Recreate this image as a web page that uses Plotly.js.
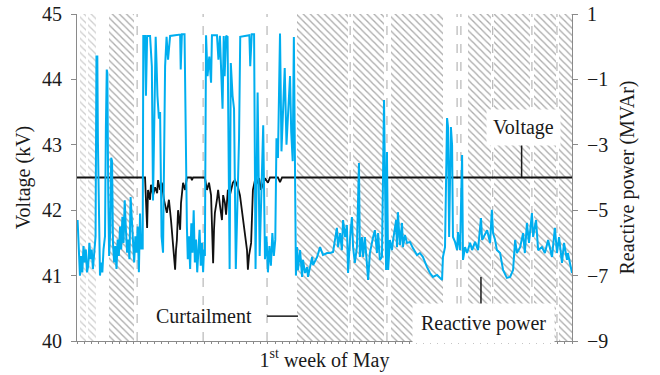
<!DOCTYPE html>
<html>
<head>
<meta charset="utf-8">
<script src="https://cdn.plot.ly/plotly-3.0.1.min.js"></script>
<style>
  html, body { margin: 0; padding: 0; background: #ffffff; }
  #chart { width: 660px; height: 375px; }
</style>
</head>
<body>
<div id="chart"></div>
<script>
// ---------- data (hours of the first week of May) ----------
const blueHours = [
  0.2,0.6,1.0,1.4,1.8,2.2,2.6,3.0,3.4,3.8,4.2,4.6,5.0,5.4,5.8,6.3,6.6,6.9,7.1,7.3,7.5,7.8,8.2,8.6,9.0,9.5,9.8,10.1,10.3,10.6,10.9,11.3,11.6,11.9,12.2,12.6,13.0,13.4,13.8,14.2,14.6,15.0,15.4,15.8,16.2,16.6,17.0,17.4,17.8,18.2,18.6,19.0,19.4,19.8,20.2,20.6,21.0,21.4,21.8,22.2,
  22.3,22.5,23.1,23.4,23.8,24.8,25.1,25.4,25.8,26.7,27.0,27.3,27.8,28.2,28.7,29.2,29.9,30.4,30.9,31.6,33.3,35.0,35.2,35.6,36.5,36.9,37.3,
  37.6,38.0,38.4,38.8,39.2,39.6,40.0,40.4,40.8,41.2,41.6,42.0,42.4,42.8,43.1,
  43.4,43.8,44.3,44.9,45.5,45.8,47.5,48.0,48.5,49.4,49.8,50.1,50.6,51.1,51.8,52.2,52.8,53.3,53.9,55.0,55.4,58.5,58.8,59.3,60.1,60.6,61.3,62.0,63.2,63.8,64.3,
  64.8,65.3,65.8,66.3,66.8,67.3,67.7,68.2,68.9,69.4,70.5,71.1,72.3,72.7,73.2,73.6,74.0,74.3,
  74.7,75.0,75.7,76.4,76.7,77.4,78.1,78.4,79.8,80.1,81.5,82.5,83.5,84.9,85.9,86.9,88.2,88.6,89.3,89.9,90.3,91.0,91.6,92.0,92.7,93.3,93.7,94.3,95.0,95.7,96.0,96.7,97.1,97.7,98.8,99.4,100.5,101.1,101.8,102.2,102.8,103.5,104.2,104.9,105.2,105.6,106.2,106.9,107.2,108.3,108.6,108.9,109.6,110.3,110.6,111.3,112.0,113.0,114.0,115.4,116.4,117.4,118.8,119.8,120.8,122.2,123.2,123.9,124.2,124.9,125.6,125.9,126.3,126.9,127.3,127.6,128.3,129.0,129.3,130.0,130.7,131.0,131.7,132.4,133.4,134.1,135.1,136.1,137.1,137.5,139.2,140.2,140.8,141.2,141.9,142.5,143.6,144.6,145.9,147.0,148.0,148.7,149.3,150.4,151.4,152.0,152.7,153.4,154.4,154.8,155.8,156.5,157.8,158.8,159.9,161.2,162.2,162.9,163.6,164.6,165.3,166.3,166.6,168.0
];
const reactiveMVAr = [
  -5.3,-6.0,-7.0,-6.4,-6.9,-6.1,-6.6,-6.2,-6.9,-6.7,-6.0,-6.5,-6.2,-6.8,-6.3,-5.8,-0.3,-0.3,-2.9,-4.0,-6.4,-7.0,-6.6,-6.9,-6.2,-5.8,-2.5,-0.7,-0.8,-4.5,-6.4,-5.6,-3.4,-3.5,-6.0,-6.6,-6.1,-6.8,-5.9,-6.4,-5.5,-6.2,-5.2,-6.0,-4.7,-5.6,-6.3,-5.9,-6.5,-4.6,-5.3,-6.1,-6.6,-5.8,-6.3,-5.5,-6.9,-5.1,-6.2,-5.9,
  -6.2,0.33,0.33,-1.5,0.33,0.33,0.0,-0.6,-4.7,0.3,-0.5,-1.5,-2.2,-2.0,-5.8,-6.3,-0.6,0.3,-0.4,0.33,0.35,0.37,-0.7,0.38,0.38,-3.0,-5.5,
  -6.5,-5.8,-6.8,-5.4,-6.3,-5.0,-6.6,-5.9,-6.9,-6.1,-5.6,-6.7,-6.0,-6.9,-6.2,
  -6.4,0.35,-0.9,-0.3,-1.1,0.35,0.35,-0.4,0.33,-1.9,0.33,-0.9,0.33,0.3,-6.8,-0.5,-1.5,-1.9,-6.8,-2.8,0.3,0.35,-0.6,0.38,0.38,-6.8,-1.4,-6.4,-2.4,-6.5,-5.8,
  -6.9,-6.1,-6.7,-5.7,-6.4,-5.9,-2.8,-3.4,0.4,-3.2,-0.65,-3.0,-0.9,-2.6,-3.5,0.3,-5.8,-7.0,
  -6.13,-6.83,-6.22,-7.04,-6.52,-6.92,-6.74,-7.04,-6.43,-6.68,-6.43,-6.13,-6.37,-6.31,-6.31,-6.28,-5.54,-6.13,-5.70,-6.22,-5.30,-5.82,-5.45,-6.92,-5.82,-5.21,-6.13,-6.61,-6.13,-3.56,-6.43,-5.82,-6.43,-5.82,-7.13,-6.31,-5.82,-5.61,-6.31,-5.70,-6.52,-6.43,-1.63,-6.83,-3.22,-6.83,-5.91,-6.22,-5.97,-5.30,-6.13,-5.06,-6.06,-5.39,-6.13,-5.76,-6.00,-5.97,-6.16,-6.37,-6.31,-6.43,-6.74,-6.92,-7.04,-6.98,-7.07,-7.13,-6.43,-6.13,-2.18,-2.43,-5.82,-2.46,-3.01,-5.82,-5.97,-6.22,-5.67,-6.22,-3.31,-6.52,-6.13,-6.31,-6.00,-6.22,-5.97,-6.22,-5.24,-5.91,-5.61,-6.00,-4.99,-5.70,-5.91,-6.22,-6.31,-6.83,-7.07,-7.04,-6.83,-5.91,-6.31,-6.13,-5.70,-6.31,-5.39,-6.00,-5.09,-5.82,-5.30,-6.22,-6.13,-6.31,-5.91,-6.43,-5.54,-6.31,-5.82,-6.61,-6.00,-6.52,-6.31,-6.92
];

const voltageHours = [
  0,23.1,23.4,23.8,24.1,24.8,25.1,25.8,26.5,27.2,27.5,28.2,28.8,29.5,30.5,31.2,31.9,32.6,33.3,33.6,33.9,34.3,35.0,35.3,36.0,36.7,37.3,38.7,39.0,39.4,
  43.4,44.1,44.8,45.5,45.8,46.2,46.5,46.8,47.5,47.9,48.5,49.2,49.6,50.2,50.6,51.2,51.9,52.9,53.6,54.6,55.3,56.0,56.7,57.0,57.7,58.0,58.4,59.1,59.4,59.7,60.4,61.1,61.8,62.4,63.1,63.8,64.8,65.5,68.2,68.9,69.6,168
];
const voltageKV = [
  42.5,42.5,42.16,41.73,42.31,42.16,42.39,42.23,42.35,42.26,42.46,42.31,42.42,42.16,41.96,42.16,41.85,41.5,41.09,41.39,41.54,42.0,41.7,42.11,42.42,42.31,42.5,42.5,42.46,42.5,
  42.5,42.31,42.42,42.23,41.85,41.19,41.7,41.96,42.16,42.31,42.08,41.85,42.23,42.11,41.93,42.31,42.23,42.42,42.46,42.35,42.23,42.0,41.77,41.59,41.39,41.09,41.31,41.5,41.85,42.31,42.46,42.42,42.49,42.31,42.39,42.49,42.42,42.5,42.5,42.43,42.5,42.5
];

// hatched periods (hours)
const lightHatchStart = [1.0, 3.7];
const lightHatchEnd   = [3.1, 6.4];
const hatchStart = [10.9, 74.7, 93.7, 106.6, 132.7, 141.6, 155.0, 163.5];
const hatchEnd   = [19.3, 92.0, 104.2, 124.2, 140.6, 153.8, 162.4, 168.0];

// dashed separators (hours)
const separatorHours = [20.4, 42.8, 64.5, 92.7, 105.2, 129.0, 130.3, 141.1, 154.4, 162.9];

// axis settings
const xRange = [0, 168];
const vRange = [40, 45];
const qRange = [-9, 1];

// ---------- build ----------
function hatchTrace(starts, ends, fg) {
  return {
    type: 'bar',
    x: starts.map((s, i) => (s + ends[i]) / 2),
    width: starts.map((s, i) => ends[i] - s),
    y: starts.map(() => vRange[1] - vRange[0]),
    base: vRange[0],
    yaxis: 'y',
    marker: {
      color: '#ffffff',
      line: {width: 0},
      pattern: {shape: '\\', fgcolor: fg, bgcolor: '#ffffff', size: 5, solidity: 0.26, fillmode: 'replace'}
    },
    hoverinfo: 'skip',
    showlegend: false
  };
}

const traces = [
  hatchTrace(lightHatchStart, lightHatchEnd, '#cfcfcf'),
  hatchTrace(hatchStart, hatchEnd, '#ababab'),
  {
    type: 'scatter', mode: 'lines', name: 'Voltage',
    x: voltageHours, y: voltageKV, yaxis: 'y',
    line: {color: '#111111', width: 1.8},
    hoverinfo: 'skip', showlegend: false
  },
  {
    type: 'scatter', mode: 'lines', name: 'Reactive power',
    x: blueHours, y: reactiveMVAr, yaxis: 'y2',
    line: {color: '#00aeef', width: 2},
    hoverinfo: 'skip', showlegend: false
  }
];

const axisGrey = '#8a8a8a';
const textColor = '#1a1a1a';
const serif = '"Liberation Serif", "Times New Roman", Times, serif';

const shapes = separatorHours.map(h => ({
  type: 'line', xref: 'x', yref: 'paper', x0: h, x1: h, y0: 0, y1: 1,
  line: {color: '#a8a8a8', width: 1, dash: 'dash'}, layer: 'below'
}));
shapes.push(
  {type: 'line', xref: 'x', yref: 'y', x0: 150.9, x1: 150.9, y0: 42.5, y1: 43.03, line: {color: textColor, width: 1.5}},
  {type: 'line', xref: 'x', yref: 'y', x0: 137.1, x1: 137.1, y0: 40.55, y1: 40.98, line: {color: textColor, width: 1.5}},
  {type: 'line', xref: 'x', yref: 'y', x0: 64.5, x1: 75.0, y0: 40.38, y1: 40.38, line: {color: textColor, width: 1.5}}
);

const layout = {
  width: 660, height: 375,
  margin: {l: 77, r: 88, t: 14, b: 34},
  paper_bgcolor: '#ffffff', plot_bgcolor: '#ffffff',
  font: {family: serif, size: 20, color: textColor},
  showlegend: false,
  barmode: 'overlay', bargap: 0,
  xaxis: {
    range: xRange, showgrid: false, zeroline: false,
    showline: true, linecolor: axisGrey, linewidth: 1,
    ticks: 'outside', ticklen: 2, tickcolor: axisGrey, tick0: 0, dtick: 2.4,
    showticklabels: false, automargin: false,
    title: {text: '1<sup>st</sup> week of May', standoff: 9, font: {family: serif, size: 20, color: textColor}}
  },
  yaxis: {
    range: vRange, tick0: 40, dtick: 1, showgrid: false, zeroline: false,
    showline: true, linecolor: axisGrey, linewidth: 1,
    ticks: 'outside', ticklen: 5, tickcolor: axisGrey, automargin: false,
    ticklabelstandoff: 5,
    tickfont: {family: serif, size: 20, color: textColor},
    title: {text: 'Voltage (kV)', standoff: 6, font: {family: serif, size: 20, color: textColor}}
  },
  yaxis2: {
    range: qRange, tick0: 1, dtick: 2, overlaying: 'y', side: 'right',
    showgrid: false, zeroline: false,
    showline: true, linecolor: axisGrey, linewidth: 1,
    ticks: 'outside', ticklen: 5, tickcolor: axisGrey, automargin: false,
    ticklabelstandoff: 5,
    tickfont: {family: serif, size: 20, color: textColor},
    title: {text: 'Reactive power (MVAr)', standoff: 12, font: {family: serif, size: 20, color: textColor}}
  },
  shapes: shapes,
  annotations: [
    {xref: 'x', yref: 'y', x: 151.7, y: 43.26, text: 'Voltage', showarrow: false,
     bgcolor: '#ffffff', borderpad: 6, font: {family: serif, size: 20, color: textColor}},
    {xref: 'x', yref: 'y', x: 138.1, y: 40.27, text: 'Reactive power', showarrow: false,
     bgcolor: '#ffffff', borderpad: 8, font: {family: serif, size: 20, color: textColor}},
    {xref: 'x', yref: 'y', x: 43.1, y: 40.38, text: 'Curtailment', showarrow: false,
     font: {family: serif, size: 20, color: textColor}}
  ]
};

Plotly.newPlot('chart', traces, layout, {staticPlot: true, displayModeBar: false});
</script>
</body>
</html>
